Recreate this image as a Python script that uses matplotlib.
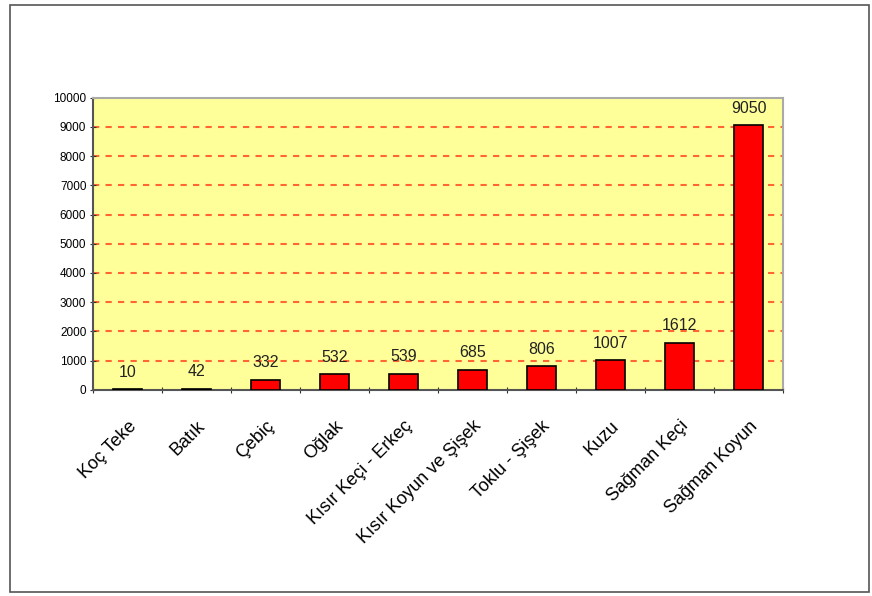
import numpy as np
import matplotlib.pyplot as plt
from matplotlib.patches import Rectangle

plt.rcParams['font.family'] = ['Liberation Sans', 'DejaVu Sans']

categories = ['Koç Teke', 'Batık', 'Çebiç', 'Oğlak', 'Kısır Keçi - Erkeç',
              'Kısır Koyun ve Şişek', 'Toklu - Şişek', 'Kuzu', 'Sağman Keçi',
              'Sağman Koyun']
values = [10, 42, 332, 532, 539, 685, 806, 1007, 1612, 9050]
yticks = list(range(0, 10001, 1000))

fig = plt.figure(figsize=(8.72, 5.96), dpi=100)
fig.patches.append(Rectangle((0.012, 0.006), 0.984, 0.985, transform=fig.transFigure,
                             fill=False, edgecolor='#555555', linewidth=1.2))

ax = fig.add_axes([0.107, 0.346, 0.791, 0.490])
ax.set_facecolor('#FFFF99')

x = np.arange(len(categories))
ax.bar(x, values, width=0.42, color='#FF0000', edgecolor='black', linewidth=1.2, zorder=3)

for xi, v in zip(x, values):
    ax.annotate(str(v), (xi, v), xytext=(0, 7), textcoords='offset points',
                ha='center', va='bottom', fontsize=11.5, color='#222222', zorder=4)

ax.set_xlim(-0.5, len(categories) - 0.5)
ax.set_ylim(0, 10000)
ax.set_yticks(yticks)
ax.set_yticklabels([str(t) for t in yticks], fontsize=8.5)
for t in yticks[1:-1]:
    ax.axhline(t, color='#FF6633', linestyle=(0, (3, 3)), linewidth=1.5, zorder=1)

ax.set_xticks(np.arange(-0.5, len(categories), 1.0))
ax.set_xticklabels([])
ax.set_xticks(x, minor=True)
ax.set_xticklabels(categories, minor=True, rotation=45, ha='right', va='top',
                   rotation_mode='anchor', fontsize=13)
ax.tick_params(axis='x', which='minor', length=0, pad=20)
ax.tick_params(axis='x', which='major', length=4, direction='inout', color='#333333')
ax.tick_params(axis='y', length=4, direction='inout', color='#333333', pad=3)

for side in ['left', 'bottom']:
    ax.spines[side].set_color('#555555')
    ax.spines[side].set_linewidth(1.5)
for side in ['top', 'right']:
    ax.spines[side].set_color('#aaaaaa')
    ax.spines[side].set_linewidth(1.5)

fig.savefig('out.png', dpi=100)
